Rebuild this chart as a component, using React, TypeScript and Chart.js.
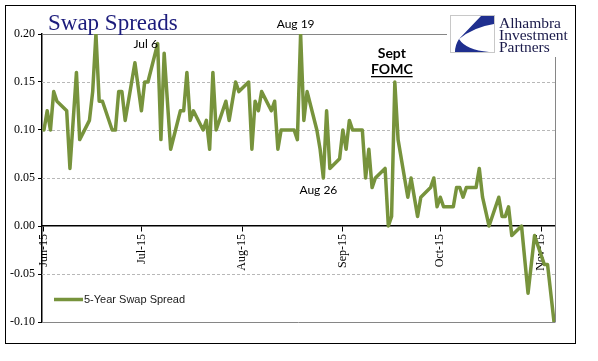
import React, { useEffect, useRef } from 'react';
import { Chart, registerables } from 'chart.js';

Chart.register(...registerables);

const seriesName = '5-Year Swap Spread';
const chartTitle = 'Swap Spreads';
const logoLines = ['Alhambra', 'Investment', 'Partners'];

const dates = [
  '2015-06-01', '2015-06-02', '2015-06-03', '2015-06-04', '2015-06-05',
  '2015-06-08', '2015-06-09', '2015-06-11', '2015-06-12',
  '2015-06-15', '2015-06-16', '2015-06-17', '2015-06-18', '2015-06-19',
  '2015-06-22', '2015-06-23', '2015-06-24', '2015-06-25', '2015-06-26',
  '2015-06-29', '2015-07-01', '2015-07-02', '2015-07-03',
  '2015-07-06', '2015-07-07', '2015-07-08', '2015-07-10',
  '2015-07-13', '2015-07-14', '2015-07-15', '2015-07-16', '2015-07-17',
  '2015-07-20', '2015-07-21', '2015-07-22', '2015-07-23', '2015-07-24',
  '2015-07-27', '2015-07-28', '2015-07-30', '2015-07-31',
  '2015-08-03', '2015-08-04', '2015-08-05', '2015-08-06', '2015-08-07',
  '2015-08-10', '2015-08-11', '2015-08-12', '2015-08-13',
  '2015-08-17', '2015-08-18', '2015-08-19', '2015-08-20', '2015-08-21',
  '2015-08-24', '2015-08-25', '2015-08-26', '2015-08-27', '2015-08-28',
  '2015-08-31',
  '2015-09-01', '2015-09-02', '2015-09-03', '2015-09-04',
  '2015-09-07', '2015-09-08', '2015-09-09', '2015-09-10', '2015-09-11',
  '2015-09-14', '2015-09-15', '2015-09-16', '2015-09-17', '2015-09-18',
  '2015-09-21', '2015-09-22', '2015-09-24', '2015-09-25',
  '2015-09-28', '2015-09-29', '2015-09-30',
  '2015-10-01', '2015-10-02',
  '2015-10-05', '2015-10-06', '2015-10-07', '2015-10-08', '2015-10-09',
  '2015-10-12', '2015-10-13', '2015-10-14', '2015-10-16',
  '2015-10-19', '2015-10-20', '2015-10-21', '2015-10-22', '2015-10-23',
  '2015-10-26', '2015-10-28', '2015-10-30',
  '2015-11-02', '2015-11-03', '2015-11-05',
];

const spread = [
  0.10, 0.12, 0.10, 0.14, 0.13,
  0.12, 0.06, 0.16, 0.09,
  0.11, 0.14, 0.20, 0.13, 0.13,
  0.10, 0.10, 0.14, 0.14, 0.11,
  0.17, 0.12, 0.15, 0.15,
  0.19, 0.09, 0.18, 0.08,
  0.12, 0.12, 0.16, 0.11, 0.12,
  0.10, 0.11, 0.08, 0.16, 0.10,
  0.13, 0.11, 0.15, 0.14,
  0.15, 0.08, 0.13, 0.12, 0.14,
  0.12, 0.13, 0.08, 0.10,
  0.10, 0.09, 0.20, 0.11, 0.14,
  0.10, 0.08, 0.05, 0.12, 0.06,
  0.07,
  0.10, 0.08, 0.11, 0.10,
  0.10, 0.05, 0.08, 0.04, 0.05,
  0.06, 0.00, 0.01, 0.15, 0.09,
  0.03, 0.05, 0.01, 0.03,
  0.04, 0.05, 0.02,
  0.03, 0.02,
  0.02, 0.04, 0.04, 0.03, 0.04,
  0.04, 0.06, 0.03, 0.00,
  0.03, 0.01, 0.01, 0.02, -0.01,
  0.00, -0.07, -0.01,
  -0.04, -0.04, -0.10,
];

const monthTickDates = ['2015-06-01', '2015-07-01', '2015-08-01', '2015-09-01', '2015-10-01', '2015-11-01'];
const monthTickLabels = ['Jun-15', 'Jul-15', 'Aug-15', 'Sep-15', 'Oct-15', 'Nov-15'];
const gridValues = [0.15, 0.10, 0.05, -0.05];

const noteJul6 = { date: '2015-07-06', text: 'Jul 6' };
const noteAug19 = { date: '2015-08-19', text: 'Aug 19' };
const noteAug26 = { date: '2015-08-26', text: 'Aug 26' };
const noteFomc = { date: '2015-09-17', lines: ['Sept', 'FOMC'] };

const GREEN = '#77933C';
const NAVY = '#1c1c7c';

const BASE = Date.UTC(2015, 5, 1);
const dayOf = (s: string) => {
  const [y, m, d] = s.split('-').map(Number);
  return (Date.UTC(y, m - 1, d) - BASE) / 86400000;
};
const valueAt = (s: string) => spread[dates.indexOf(s)];

const decorPlugin = {
  id: 'decor',
  beforeDatasetsDraw(chart: any) {
    const { ctx, chartArea: a, scales } = chart;
    const y = scales.y;
    ctx.save();
    ctx.lineWidth = 1;
    ctx.strokeStyle = '#b8b8b8';
    ctx.setLineDash([3, 2]);
    for (const v of gridValues) {
      const py = Math.round(y.getPixelForValue(v)) + 0.5;
      ctx.beginPath();
      ctx.moveTo(a.left, py);
      ctx.lineTo(a.right, py);
      ctx.stroke();
    }
    ctx.setLineDash([]);
    ctx.strokeStyle = '#868686';
    const top = Math.round(y.getPixelForValue(0.2)) + 0.5;
    const bot = Math.round(y.getPixelForValue(-0.1)) + 0.5;
    ctx.beginPath();
    ctx.moveTo(a.left, top);
    ctx.lineTo(447, top);
    ctx.moveTo(a.left, bot);
    ctx.lineTo(a.right, bot);
    ctx.moveTo(Math.round(a.right) + 0.5, 57);
    ctx.lineTo(Math.round(a.right) + 0.5, bot);
    ctx.stroke();
    ctx.restore();
  },
  afterDraw(chart: any) {
    const { ctx, scales } = chart;
    const x = scales.x;
    const y = scales.y;
    const px = (d: string) => x.getPixelForValue(dayOf(d));
    const py = (d: string) => y.getPixelForValue(valueAt(d));
    ctx.save();

    // title
    ctx.fillStyle = NAVY;
    ctx.font = '23px "Liberation Serif"';
    ctx.textAlign = 'left';
    ctx.textBaseline = 'alphabetic';
    ctx.fillText(chartTitle, 48, 30);

    // annotations
    ctx.fillStyle = '#000';
    ctx.textAlign = 'center';
    ctx.font = '12px Lato';
    ctx.fillText(noteJul6.text, px(noteJul6.date) - 12, py(noteJul6.date) + 4);
    ctx.fillText(noteAug19.text, px(noteAug19.date) - 5, py(noteAug19.date) - 6);
    ctx.fillText(noteAug26.text, px(noteAug26.date) - 5, py(noteAug26.date) + 16);
    ctx.font = 'bold 14px Lato';
    const fx = px(noteFomc.date) - 3;
    const fy = py(noteFomc.date);
    ctx.fillText(noteFomc.lines[0], fx, fy - 24);
    ctx.fillText(noteFomc.lines[1], fx, fy - 8);
    const w = ctx.measureText(noteFomc.lines[1]).width;
    ctx.fillRect(fx - w / 2, fy - 6, w, 1.3);

    // legend
    ctx.strokeStyle = GREEN;
    ctx.lineWidth = 3.5;
    ctx.beginPath();
    ctx.moveTo(54, 299.5);
    ctx.lineTo(83, 299.5);
    ctx.stroke();
    ctx.fillStyle = '#1a1a1a';
    ctx.textAlign = 'left';
    ctx.textBaseline = 'middle';
    ctx.font = '11px "Liberation Sans"';
    ctx.fillText(seriesName, 84, 300);

    // logo
    ctx.fillStyle = '#fff';
    ctx.fillRect(450, 15, 45, 38);
    ctx.strokeStyle = '#c8c8c8';
    ctx.lineWidth = 1;
    ctx.strokeRect(450.5, 15.5, 44, 37);
    ctx.fillStyle = '#1f2f8f';
    ctx.beginPath();
    ctx.moveTo(481, 16);
    ctx.lineTo(494, 16);
    ctx.lineTo(494, 24);
    ctx.quadraticCurveTo(474, 27, 459, 39);
    ctx.closePath();
    ctx.fill();
    ctx.beginPath();
    ctx.moveTo(459, 39);
    ctx.quadraticCurveTo(466, 50, 489, 52);
    ctx.lineTo(455, 52);
    ctx.quadraticCurveTo(455, 45, 459, 39);
    ctx.closePath();
    ctx.fill();
    ctx.fillStyle = '#1a1a4a';
    ctx.textBaseline = 'alphabetic';
    ctx.font = '15.5px "Liberation Serif"';
    ctx.fillText(logoLines[0], 499, 28);
    ctx.fillText(logoLines[1], 499, 40);
    ctx.fillText(logoLines[2], 499, 52);

    // outer border
    ctx.strokeStyle = '#000';
    ctx.lineWidth = 1;
    ctx.strokeRect(5.5, 5.5, 570, 338);
    ctx.restore();
  },
};

export default function App() {
  const ref = useRef<HTMLCanvasElement>(null);
  useEffect(() => {
    if (!ref.current) return;
    const tickDays = monthTickDates.map(dayOf);
    const chart = new Chart(ref.current, {
      type: 'line',
      data: {
        datasets: [
          {
            label: seriesName,
            data: dates.map((d, i) => ({ x: dayOf(d), y: spread[i] })),
            borderColor: GREEN,
            backgroundColor: GREEN,
            borderWidth: 3.5,
            borderJoinStyle: 'round',
            borderCapStyle: 'round',
            pointRadius: 0,
            tension: 0,
          },
        ],
      },
      options: {
        responsive: false,
        animation: false,
        devicePixelRatio: 1,
        layout: { padding: { top: 34, bottom: 39, left: 0, right: 43 } },
        plugins: { legend: { display: false }, tooltip: { enabled: false } },
        scales: {
          x: {
            type: 'linear',
            position: { y: 0 },
            min: -0.6,
            max: 157.3,
            afterBuildTicks: (s: any) => {
              s.ticks = tickDays.map((v) => ({ value: v }));
            },
            ticks: {
              autoSkip: false,
              minRotation: 90,
              maxRotation: 90,
              padding: 3,
              color: '#000',
              font: { family: 'Liberation Serif', size: 12 },
              callback: (_v: any, i: number) => monthTickLabels[i],
            },
            grid: { drawOnChartArea: false, drawTicks: true, tickLength: 5, color: '#000' },
            border: { color: '#000', width: 1.5 },
          },
          y: {
            min: -0.1,
            max: 0.2,
            afterFit: (s: any) => {
              s.width = 42;
            },
            ticks: {
              stepSize: 0.05,
              padding: 3,
              color: '#000',
              font: { family: 'Liberation Serif', size: 12 },
              callback: (v: any) => (Math.abs(v) < 1e-9 ? '0.00' : Number(v).toFixed(2)),
            },
            grid: { drawOnChartArea: false, drawTicks: true, tickLength: 4, color: '#000' },
            border: { color: '#000', width: 1.5 },
          },
        },
      },
      plugins: [decorPlugin],
    } as any);
    return () => chart.destroy();
  }, []);
  return (
    <div style={{ position: 'fixed', left: 0, top: 0, width: 598, height: 361, background: '#fff' }}>
      <canvas ref={ref} width={598} height={361} style={{ display: 'block' }} />
    </div>
  );
}
